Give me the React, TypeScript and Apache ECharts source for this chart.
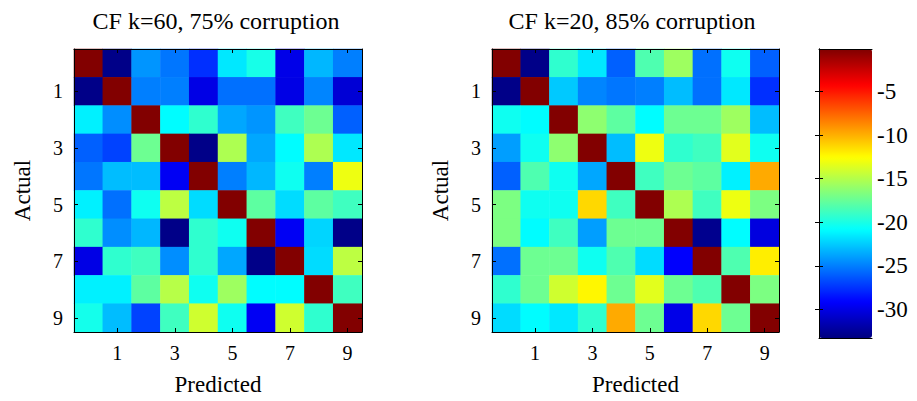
import React, { useEffect, useRef } from "react";
import * as echarts from "echarts";

const classes = ["0", "1", "2", "3", "4", "5", "6", "7", "8", "9"];

const titleLeft = "CF k=60, 75% corruption";
const titleRight = "CF k=20, 85% corruption";

// rows = actual (0..9 top to bottom), cols = predicted (0..9)
const matrixK60: number[][] = [
  [-0.2, -33, -24.3, -25.3, -27.6, -21.6, -20.1, -29.9, -23.2, -25],
  [-33, -0.2, -25, -25, -30, -25.5, -25.5, -30, -24.8, -30.5],
  [-21.3, -24.5, -0.2, -20.9, -19.3, -23.7, -24.3, -18.8, -17.3, -26],
  [-26, -27, -17.3, -0.2, -33, -15.2, -23.7, -20.9, -15.2, -21.6],
  [-25.3, -23, -23, -29.5, -0.2, -25, -23.2, -20.4, -25, -13.1],
  [-21.3, -25.5, -20.4, -14.7, -22, -0.2, -17.8, -22, -17.8, -18.8],
  [-19.3, -24.5, -23.2, -33, -19.3, -20.4, -0.2, -29.5, -22.2, -33],
  [-30, -19.3, -18.8, -24.5, -19.3, -23.7, -33, -0.2, -22, -14.7],
  [-21.3, -21.3, -17.8, -14.9, -20.4, -15.7, -20.9, -20.9, -0.2, -18.8],
  [-20.2, -23, -27, -18.8, -14.1, -20.4, -29.5, -14.1, -19.3, -0.2],
];

const matrixK20: number[][] = [
  [-0.2, -33, -19.3, -21.6, -26, -18.3, -15.7, -25.5, -20.4, -26],
  [-33, -0.2, -22.6, -24.8, -25.3, -25, -23, -25.5, -21.6, -27.6],
  [-20.4, -20.9, -0.2, -16.2, -17.8, -20.9, -17.3, -17.3, -15.7, -23],
  [-24, -20.4, -16.2, -0.2, -23, -13.1, -19.3, -18.8, -13.5, -20.4],
  [-26, -18.3, -20.4, -23.7, -0.2, -18.8, -17.3, -17.8, -21.3, -9.8],
  [-16.8, -20.4, -20.4, -11.3, -18.8, -0.2, -15.2, -18.8, -13.1, -16.8],
  [-16.8, -20.9, -18.8, -24, -17.3, -17.3, -0.2, -32.8, -20.9, -30.2],
  [-25.5, -17.3, -17.3, -20.4, -18.3, -22, -29.2, -0.2, -18.3, -12],
  [-19.3, -17.3, -14.1, -12.3, -17.3, -13.5, -17.3, -18.3, -0.2, -16.8],
  [-22, -20.9, -21.6, -19.3, -9.8, -17.3, -29.9, -11.3, -17.3, -0.2],
];

const colorMin = -33.3;
const colorMax = -0.1;
const colorbarTicks = [-30, -25, -20, -15, -10, -5];

const jet = [
  "#00007F", "#0000FF", "#007FFF", "#00FFFF", "#7FFF7F",
  "#FFFF00", "#FF7F00", "#FF0000", "#7F0000",
];

const FONT = "'Liberation Serif', 'Times New Roman', serif";

function toCells(m: number[][]) {
  const out: [number, number, number][] = [];
  m.forEach((row, r) => row.forEach((v, c) => out.push([c, r, v])));
  return out;
}

const oddOnly = (i: number) => i % 2 === 1;

function catAxis(gridIndex: number, position: string, showLabel: boolean, isY: boolean, name?: string) {
  return {
    type: "category",
    gridIndex,
    position,
    data: classes,
    inverse: isY,
    z: 10,
    name: name || "",
    nameLocation: "middle",
    nameGap: isY ? 40 : 41,
    nameRotate: isY ? 90 : 0,
    nameTextStyle: { fontFamily: FONT, fontSize: 23, color: "#000" },
    axisLine: { show: true, onZero: false, lineStyle: { color: "#000", width: 1 } },
    axisTick: {
      show: true,
      inside: true,
      length: 4,
      alignWithLabel: true,
      interval: oddOnly,
      lineStyle: { color: "#000" },
    },
    axisLabel: {
      show: showLabel,
      interval: oddOnly,
      fontFamily: FONT,
      fontSize: 20,
      color: "#000",
      margin: 11,
    },
    splitLine: { show: false },
    splitArea: { show: false },
  };
}

export default function App() {
  const ref = useRef<HTMLDivElement>(null);
  useEffect(() => {
    if (!ref.current) return;
    const chart = echarts.init(ref.current, null, { renderer: "svg" });
    const grids = [
      { left: 74, top: 49, width: 288, height: 288 },
      { left: 492, top: 49, width: 287, height: 288 },
      { left: 819, top: 49, width: 53, height: 289 },
    ];
    const cbAxisBase = {
      type: "value",
      gridIndex: 2,
      min: colorMin,
      max: colorMax,
      z: 10,
      axisLine: { show: true, lineStyle: { color: "#000", width: 1 } },
      axisTick: {
        show: true,
        inside: true,
        length: 4,
        customValues: colorbarTicks,
        lineStyle: { color: "#000" },
      },
      splitLine: { show: false },
    };
    const option: any = {
      animation: false,
      backgroundColor: "#fff",
      textStyle: { fontFamily: FONT },
      title: [
        {
          text: titleLeft,
          left: 216,
          top: 9,
          textAlign: "center",
          padding: 0,
          textStyle: { fontFamily: FONT, fontSize: 24, fontWeight: "normal", color: "#000" },
        },
        {
          text: titleRight,
          left: 632,
          top: 9,
          textAlign: "center",
          padding: 0,
          textStyle: { fontFamily: FONT, fontSize: 24, fontWeight: "normal", color: "#000" },
        },
      ],
      grid: grids,
      xAxis: [
        catAxis(0, "bottom", true, false, "Predicted"),
        catAxis(0, "top", false, false),
        catAxis(1, "bottom", true, false, "Predicted"),
        catAxis(1, "top", false, false),
        {
          type: "value", gridIndex: 2, min: 0, max: 1, position: "bottom", z: 10,
          axisLine: { show: true, onZero: false, lineStyle: { color: "#000" } },
          axisTick: { show: false }, axisLabel: { show: false }, splitLine: { show: false },
        },
        {
          type: "value", gridIndex: 2, min: 0, max: 1, position: "top", z: 10,
          axisLine: { show: true, onZero: false, lineStyle: { color: "#000" } },
          axisTick: { show: false }, axisLabel: { show: false }, splitLine: { show: false },
        },
      ],
      yAxis: [
        catAxis(0, "left", true, true, "Actual"),
        catAxis(0, "right", false, true),
        catAxis(1, "left", true, true, "Actual"),
        catAxis(1, "right", false, true),
        { ...cbAxisBase, position: "left", axisLabel: { show: false } },
        {
          ...cbAxisBase,
          position: "right",
          axisLabel: {
            show: true,
            customValues: colorbarTicks,
            fontFamily: FONT,
            fontSize: 23,
            color: "#000",
            margin: 5,
            formatter: (v: number) => String(v),
          },
        },
      ],
      visualMap: {
        type: "continuous",
        min: colorMin,
        max: colorMax,
        seriesIndex: [0, 1],
        orient: "vertical",
        left: 819,
        top: 49,
        itemWidth: 53,
        itemHeight: 289,
        padding: 0,
        calculable: false,
        hoverLink: false,
        inRange: { color: jet },
        textStyle: { fontSize: 0 },
      },
      series: [
        {
          type: "heatmap",
          xAxisIndex: 0,
          yAxisIndex: 0,
          data: toCells(matrixK60),
          itemStyle: { borderWidth: 0 },
          emphasis: { disabled: true },
        },
        {
          type: "heatmap",
          xAxisIndex: 2,
          yAxisIndex: 2,
          data: toCells(matrixK20),
          itemStyle: { borderWidth: 0 },
          emphasis: { disabled: true },
        },
      ],
    };
    chart.setOption(option);
    return () => chart.dispose();
  }, []);
  return (
    <div
      ref={ref}
      style={{ position: "fixed", left: 0, top: 0, width: 917, height: 401, background: "#fff" }}
    />
  );
}
